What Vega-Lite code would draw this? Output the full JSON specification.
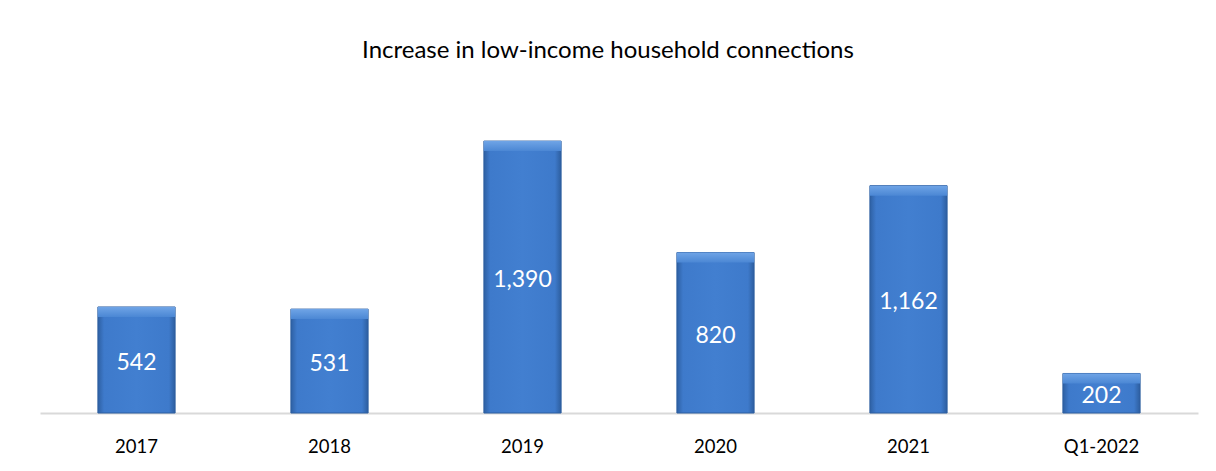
{
  "$schema": "https://vega.github.io/schema/vega-lite/v6.json",
  "width": 1158,
  "height": 313,
  "autosize": {"type": "none"},
  "padding": {"left": 40, "top": 100, "right": 18, "bottom": 58},
  "background": "white",
  "config": {"view": {"stroke": null}, "font": "Lato"},
  "title": {
    "text": "Increase in low-income household connections",
    "font": "Lato",
    "fontSize": 24,
    "fontWeight": "normal",
    "color": "#000000",
    "anchor": "middle",
    "offset": 37,
    "dx": -11
  },
  "data": {
    "values": [
      {"period": "2017", "value": 542},
      {"period": "2018", "value": 531},
      {"period": "2019", "value": 1390},
      {"period": "2020", "value": 820},
      {"period": "2021", "value": 1162},
      {"period": "Q1-2022", "value": 202}
    ]
  },
  "encoding": {
    "x": {
      "field": "period",
      "type": "nominal",
      "sort": null,
      "scale": {"paddingInner": 0.6, "paddingOuter": 0.3},
      "axis": {
        "title": null,
        "labelAngle": 0,
        "labelFont": "Lato",
        "labelFontSize": 18.5,
        "labelColor": "#000000",
        "labelPadding": 24,
        "ticks": false,
        "domainColor": "#d9d9d9",
        "domainWidth": 2
      }
    }
  },
  "layer": [
    {
      "mark": {
        "type": "bar",
        "stroke": "#2d5ea0",
        "strokeWidth": 1,
        "fill": {
          "gradient": "linear",
          "x1": 0, "y1": 0, "x2": 1, "y2": 0,
          "stops": [
            {"offset": 0, "color": "#2e60a3"},
            {"offset": 0.08, "color": "#3e7acb"},
            {"offset": 0.5, "color": "#427fd0"},
            {"offset": 0.92, "color": "#3e7acb"},
            {"offset": 1, "color": "#2d5e9f"}
          ]
        }
      },
      "encoding": {
        "y": {
          "field": "value",
          "type": "quantitative",
          "scale": {"domain": [0, 1600]},
          "axis": null
        }
      }
    },
    {
      "mark": {
        "type": "bar",
        "y2Offset": 10,
        "fill": {
          "gradient": "linear",
          "x1": 0, "y1": 0, "x2": 0, "y2": 1,
          "stops": [
            {"offset": 0, "color": "#6fa4e6"},
            {"offset": 1, "color": "#4b87d4"}
          ]
        }
      },
      "encoding": {
        "y": {"field": "value", "type": "quantitative"},
        "y2": {"field": "value"}
      }
    },
    {
      "transform": [{"calculate": "datum.value / 2", "as": "mid"}],
      "mark": {
        "type": "text",
        "color": "white",
        "font": "Lato",
        "fontSize": 23,
        "baseline": "middle",
        "dy": 3
      },
      "encoding": {
        "y": {"field": "mid", "type": "quantitative"},
        "text": {"field": "value", "type": "quantitative", "format": ","}
      }
    }
  ]
}
